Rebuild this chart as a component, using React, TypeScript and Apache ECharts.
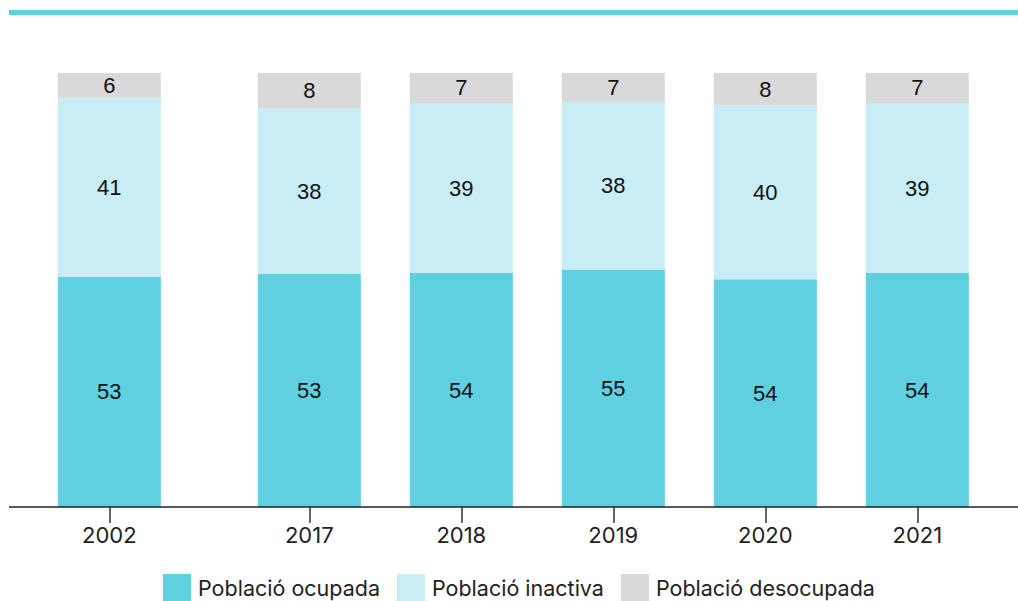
import React, { useEffect, useRef } from "react";
import * as echarts from "echarts";

const years = ["2002", "2017", "2018", "2019", "2020", "2021"];
// bar shares (%)
const ocupada = [53.0, 53.7, 53.9, 54.7, 52.5, 53.9];
const inactiva = [41.3, 38.1, 39.2, 38.6, 40.0, 39.2];
const desocupada = [5.7, 8.2, 6.9, 6.7, 7.5, 6.9];
// printed labels
const ocupadaLabels = [53, 53, 54, 55, 54, 54];
const inactivaLabels = [41, 38, 39, 38, 40, 39];
const desocupadaLabels = [6, 8, 7, 7, 8, 7];

const seriesNames = ["Població ocupada", "Població inactiva", "Població desocupada"];
const colors = ["#5FD0DF", "#C8EDF4", "#D9D9D9"];

const FONT = "Inter";
const VALUE_FONT = "Liberation Sans";

export default function App() {
  const ref = useRef<HTMLDivElement>(null);
  useEffect(() => {
    document.body.style.margin = "0";
    if (!ref.current) return;
    const chart = echarts.init(ref.current, null, { renderer: "svg" });
    const values = [ocupada, inactiva, desocupada];
    const labels = [ocupadaLabels, inactivaLabels, desocupadaLabels];
    const groups = [
      { start: 0, end: 1 },
      { start: 1, end: years.length },
    ];
    const series: any[] = [];
    groups.forEach((g, gi) => {
      values.forEach((vals, si) => {
        series.push({
          name: seriesNames[si],
          type: "bar",
          stack: "g" + gi,
          xAxisIndex: gi,
          yAxisIndex: gi,
          barWidth: 103,
          itemStyle: { color: colors[si] },
          data: vals.slice(g.start, g.end),
          label: {
            show: true,
            position: "inside",
            color: "#111",
            fontFamily: VALUE_FONT,
            fontSize: 22,
            formatter: (p: any) => String(labels[si][g.start + p.dataIndex]),
          },
        });
      });
    });
    const axisCommon = {
      type: "category" as const,
      axisLine: { show: false },
      axisTick: {
        show: true,
        alignWithLabel: true,
        length: 16,
        lineStyle: { color: "#333", width: 1.5 },
      },
      axisLabel: {
        color: "#222",
        fontFamily: FONT,
        fontSize: 22,
        margin: 17,
      },
    };
    const yCommon = { type: "value" as const, min: 0, max: 100, show: false };
    chart.setOption({
      animation: false,
      grid: [
        { left: 33.3, width: 152, top: 73, height: 434 },
        { left: 233.3, width: 760, top: 73, height: 434 },
      ],
      xAxis: [
        { ...axisCommon, gridIndex: 0, data: years.slice(0, 1) },
        { ...axisCommon, gridIndex: 1, data: years.slice(1) },
      ],
      yAxis: [
        { ...yCommon, gridIndex: 0 },
        { ...yCommon, gridIndex: 1 },
      ],
      legend: {
        data: seriesNames,
        left: 163,
        top: 574,
        padding: 0,
        icon: "rect",
        itemWidth: 28,
        itemHeight: 28,
        itemGap: 17,
        textStyle: {
          color: "#222",
          fontFamily: FONT,
          fontSize: 21.5,
          lineHeight: 24,
          padding: [0, 0, 0, 2],
        },
      },
      graphic: [
        {
          type: "rect",
          shape: { x: 9, y: 10, width: 1009, height: 5 },
          style: { fill: "#5FD0DF" },
        },
        {
          type: "line",
          shape: { x1: 9, y1: 507, x2: 1018, y2: 507 },
          style: { stroke: "#222", lineWidth: 1.5 },
          z: 10,
        },
      ],
      series,
    });
    return () => chart.dispose();
  }, []);
  return <div ref={ref} style={{ width: 1018, height: 601 }} />;
}
